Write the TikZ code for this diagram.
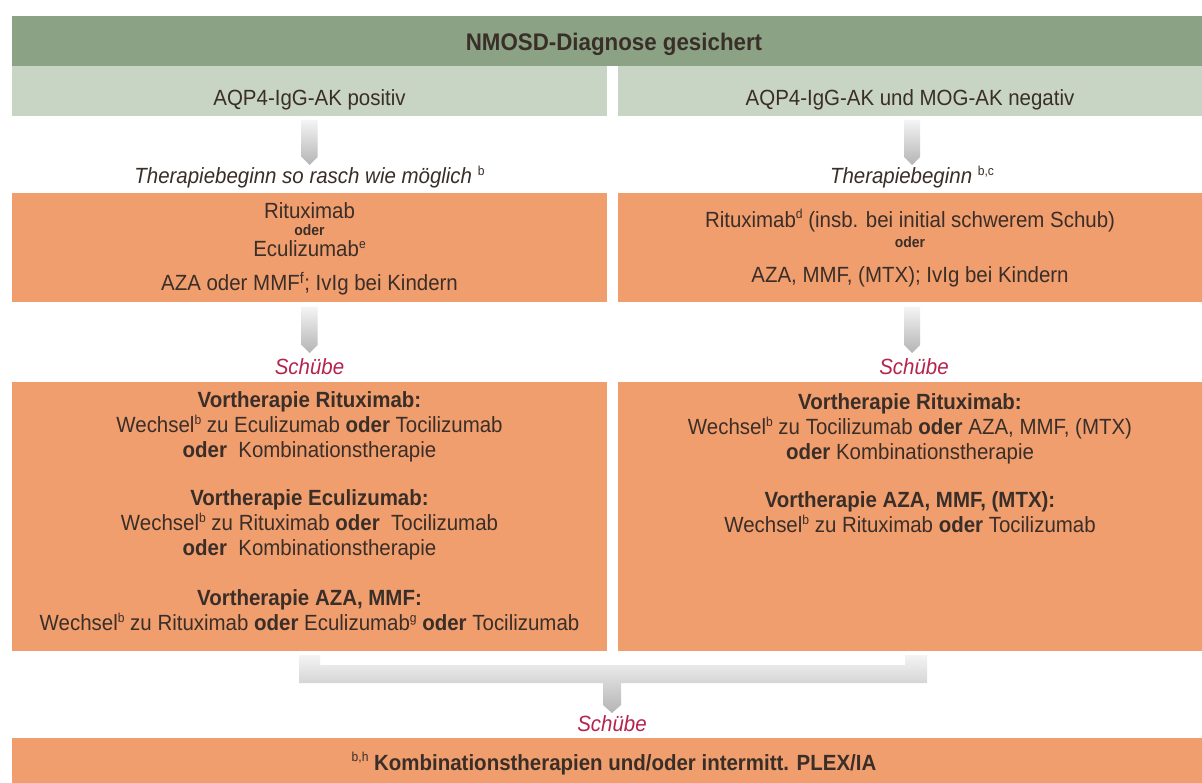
\documentclass[tikz,border=0pt]{standalone}
\usepackage{fontspec}
\setmainfont{Liberation Sans}[FakeStretch=0.93]
\usetikzlibrary{calc}
\definecolor{hdrgreen}{HTML}{8BA384}
\definecolor{lightgreen}{HTML}{C8D5C4}
\definecolor{orangebox}{HTML}{F19E6E}
\definecolor{crimson}{HTML}{B5234F}
\definecolor{txt}{HTML}{3A2E28}
\definecolor{arrtop}{HTML}{F4F4F4}
\definecolor{arrbot}{HTML}{B4B4B4}
\newcommand{\sx}[1]{\raisebox{0.4em}{\fontsize{13}{13}\selectfont\upshape\mdseries #1}}
\newcommand{\od}{\textbf{oder}}
\newcommand{\sod}{{\bfseries\fontsize{15}{15}\selectfont oder}}
\newcommand{\bodyfont}{\fontsize{22}{25}\selectfont\lineskiplimit=-100pt\relax}
\newcommand{\garrow}[2]{\shade[top color=arrtop,bottom color=arrbot]
  let \p1=(#1), \p2=(#2) in (\x1-8pt,\y1) -- (\x1+8pt,\y1) -- (\x1+8pt,\y2+8pt)
  -- (\x1,\y2) -- (\x1-8pt,\y2+8pt) -- cycle;}
\begin{document}
\begin{tikzpicture}[x=1pt,y=-1pt,
  every node/.style={inner sep=0pt,outer sep=0pt,text=txt},
  hdrbox/.style={fill=hdrgreen,minimum width=1190pt,minimum height=50pt},
  lgbox/.style={fill=lightgreen,minimum height=50pt},
  obox/.style={fill=orangebox},
  body/.style={font=\bodyfont,align=center},
  ttl/.style={font=\fontsize{24}{28}\selectfont\bfseries},
  note/.style={font=\fontsize{22}{25}\selectfont\itshape},
  schub/.style={font=\fontsize{22}{25}\selectfont\itshape,text=crimson}]
\useasboundingbox[fill=white] (0,0) rectangle (1202,783);
% header
\node[hdrbox] (hd) at (607,41) {};
\node[ttl,anchor=base] (hdt) at (614,50.5) {NMOSD-Diagnose gesichert};
\node[lgbox,minimum width=595pt] (lgL) at (309.5,91) {};
\node[lgbox,minimum width=584pt] (lgR) at (910,91) {};
\node[body,anchor=base] (lgLt) at (309.5,106) {AQP4-IgG-AK positiv};
\node[body,anchor=base] (lgRt) at (910,106) {AQP4-IgG-AK und MOG-AK negativ};
% therapy start
\node[note,anchor=base] (thL) at (309.5,184) {Therapiebeginn so rasch wie möglich \sx{b}};
\node[note,anchor=base] (thR) at (912,184) {Therapiebeginn \sx{b,c}};
\node[obox,minimum width=595pt,minimum height=109pt] (o1L) at (309.5,247.5) {};
\node[obox,minimum width=584pt,minimum height=109pt] (o1R) at (910,247.5) {};
\node[body,anchor=north] (o1Lt) at (309.5,203) {Rituximab\\[-8pt]\sod\\[-4pt]Eculizumab\sx{e}\\[9pt]AZA oder MMF\textsuperscript{f}; IvIg bei Kindern};
\node[body,anchor=north] (o1Rt) at (910,209) {Rituximab\sx{d} (insb. bei initial schwerem Schub)\\[-5pt]\sod\\[10pt]AZA, MMF, (MTX); IvIg bei Kindern};
% relapses
\node[schub,anchor=base] (s1L) at (309.5,375) {Schübe};
\node[schub,anchor=base] (s1R) at (914,375) {Schübe};
\node[obox,minimum width=595pt,minimum height=269pt] (o2L) at (309.5,516.5) {};
\node[obox,minimum width=584pt,minimum height=269pt] (o2R) at (910,516.5) {};
\node[body,anchor=north] (o2Lt) at (309.5,392) {\textbf{Vortherapie Rituximab:}\\
Wechsel\sx{b} zu Eculizumab \od{} Tocilizumab\\
\od{}\ \ Kombinationstherapie\\[23pt]
\textbf{Vortherapie Eculizumab:}\\
Wechsel\sx{b} zu Rituximab \od{}\ \ Tocilizumab\\
\od{}\ \ Kombinationstherapie\\[25pt]
\textbf{Vortherapie AZA, MMF:}\\
Wechsel\sx{b} zu Rituximab \od{} Eculizumab\sx{g} \od{} Tocilizumab};
\node[body,anchor=north] (o2Rt) at (910,394) {\textbf{Vortherapie Rituximab:}\\
Wechsel\sx{b} zu Tocilizumab \od{} AZA, MMF, (MTX)\\
\od{} Kombinationstherapie\\[23pt]
\textbf{Vortherapie AZA, MMF, (MTX):}\\
Wechsel\sx{b} zu Rituximab \od{} Tocilizumab};
% final
\node[schub,anchor=base] (s2) at (612,731) {Schübe};
\node[obox,minimum width=1190pt,minimum height=45pt] (ob) at (607,760.5) {};
\node[body,anchor=base] (obt) at (614,770) {\sx{b,h} \textbf{Kombinationstherapien und/oder intermitt. PLEX/IA}};
% connectors
\coordinate (a1Ls) at ($(lgL.south)+(0,4)$);
\coordinate (a1Le) at (309.5,165);
\coordinate (a1Rs) at (912,120);
\coordinate (a1Re) at (912,165);
\coordinate (a2Ls) at ($(o1L.south)+(0,5)$);
\coordinate (a2Le) at (309.5,353);
\coordinate (a2Rs) at (912,307);
\coordinate (a2Re) at (912,353);
\garrow{a1Ls}{a1Le}
\garrow{a1Rs}{a1Re}
\garrow{a2Ls}{a2Le}
\garrow{a2Rs}{a2Re}
\shade[top color=arrtop,bottom color=arrbot]
  (299,655) -- (320,655) -- (320,665) -- (905,665) -- (905,655) -- (927,655)
  -- (927,683) -- (621,683) -- (621,705) -- (612,713) -- (603,705) -- (603,683)
  -- (299,683) -- cycle;
\end{tikzpicture}
\end{document}
